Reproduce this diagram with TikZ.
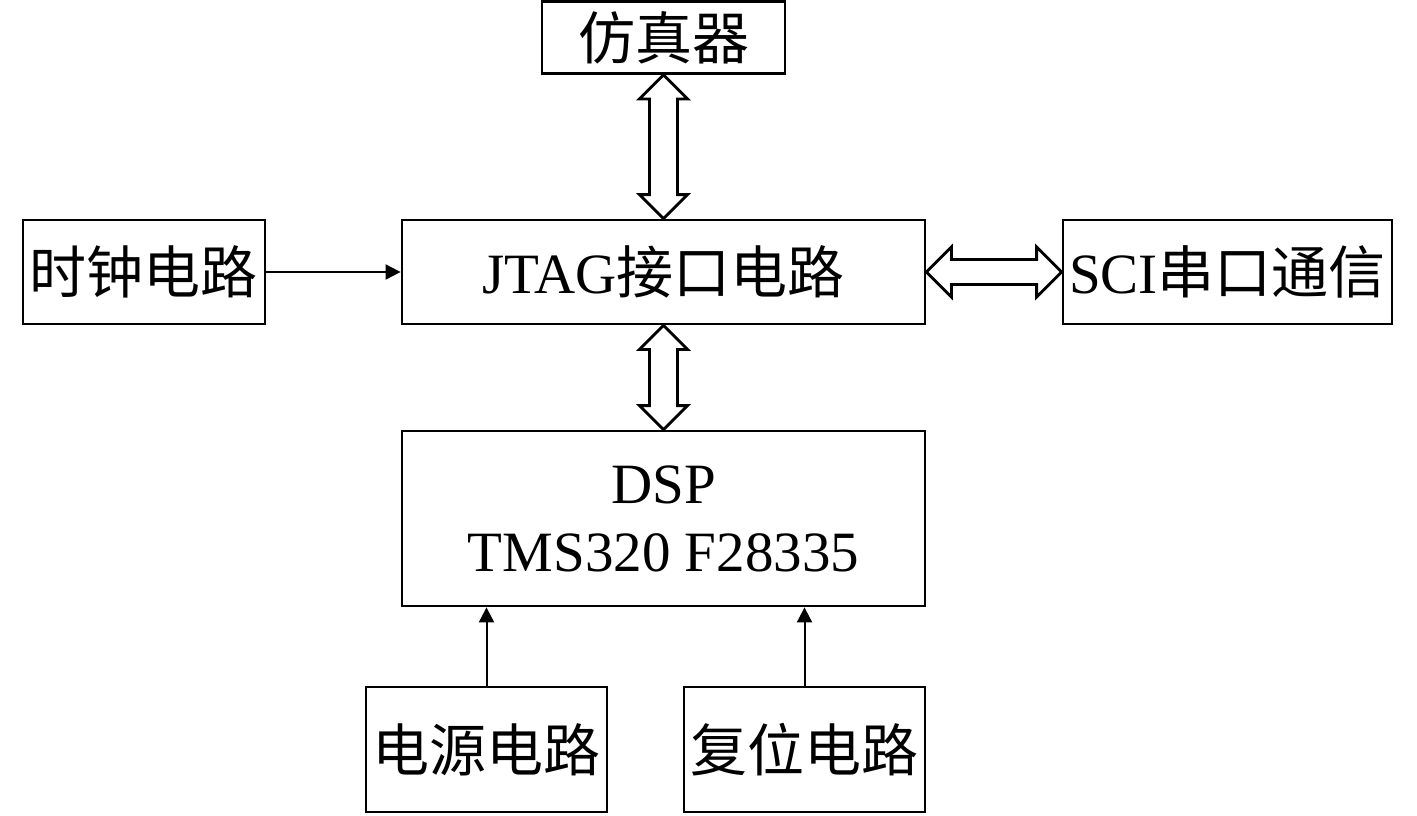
\documentclass[tikz,border=0pt]{standalone}
\usepackage{fontspec}
\setmainfont{Liberation Serif}
\newfontfamily\cjk{Noto Sans CJK SC}
\usetikzlibrary{arrows.meta,calc,positioning}

\begin{document}
\begin{tikzpicture}[x=1pt, y=-1pt,
			box/.style={rectangle, draw=black, line width=2.8pt, inner sep=0pt,
				align=center, font=\fontsize{57}{68}\selectfont},
			dbl/.style={draw=black, line width=2.8pt, line join=miter, fill=white},
			arr/.style={-{Triangle[length=15pt,width=15pt]}, line width=2pt}]
			\useasboundingbox (0,0) rectangle (1417,815);
			
			% Top
			\node[box, minimum width=243pt, minimum height=72pt] (fzq) at (663.5,37.5) {\cjk 仿真器};
			
			% Row 1
			\node[box, minimum width=242pt, minimum height=104pt] (clk) at (144,272) {\cjk 时钟电路};
			\node[box, minimum width=523pt, minimum height=104pt] (jtag) at (663.5,272) {JTAG{\cjk 接口电路}};
			\node[box, minimum width=329pt, minimum height=104pt] (sci) at (1227.5,272) {SCI{\cjk 串口通信}};
			
			% DSP
			\node[box, minimum width=523pt, minimum height=175pt] (dsp) at (663.5,518.5) {DSP\\TMS320 F28335};
			
			% Row 2
			\node[box, minimum width=241pt, minimum height=125pt] (pwr) at (486.5,749.5) {\cjk 电源电路};
			\node[box, minimum width=241pt, minimum height=125pt] (rst) at (804.5,749.5) {\cjk 复位电路};
			
			% Double arrows
			\draw[dbl] (fzq.south) -- ++(24,24) -- ++(-10,0) -- ($(jtag.north)+(14,-24)$) -- ++(10,0)
				-- (jtag.north) -- ++(-24,-24) -- ++(10,0) -- ($(fzq.south)+(-14,24)$) -- ++(-10,0) -- cycle;
			\draw[dbl] (jtag.south) -- ++(24,24) -- ++(-10,0) -- ($(dsp.north)+(14,-24)$) -- ++(10,0)
				-- (dsp.north) -- ++(-24,-24) -- ++(10,0) -- ($(jtag.south)+(-14,24)$) -- ++(-10,0) -- cycle;
			\draw[dbl] (jtag.east) -- ++(25,-25) -- ++(0,12.5) -- ($(sci.west)+(-25,-12.5)$) -- ++(0,-12.5)
				-- (sci.west) -- ++(-25,25) -- ++(0,-12.5) -- ($(jtag.east)+(25,12.5)$) -- ++(0,12.5) -- cycle;
			
			% Arrows
			\draw[arr] (clk) -- (jtag);
			\draw[arr] (pwr) -- (pwr |- dsp.south);
			\draw[arr] (rst) -- (rst |- dsp.south);
		\end{tikzpicture}
\end{document}
